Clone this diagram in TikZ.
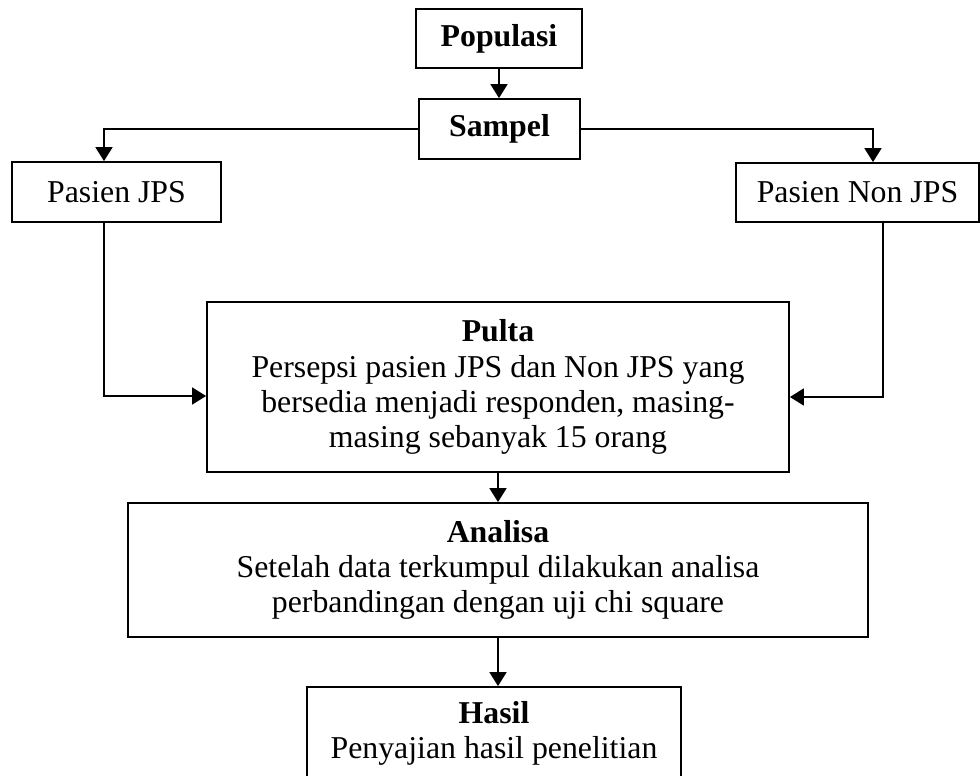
\documentclass[tikz,border=0pt]{standalone}
\usepackage{fontspec}
\setmainfont{Liberation Serif}
\usetikzlibrary{arrows.meta}
\begin{document}
\begin{tikzpicture}[x=0.5pt,y=-0.5pt,
  box/.style={draw=black,line width=0.9pt,inner sep=0pt,align=center,text=black,font=\fontsize{15.9}{17.6}\selectfont},
  conn/.style={draw=black,line width=0.9pt,-{Triangle[length=7pt,width=8.5pt]}}]
\fill[white] (0,0) rectangle (980,776);
\useasboundingbox (0,0) rectangle (980,776);
\node[box,minimum width=83pt,minimum height=29.5pt] (pop) at (499,38.5) {\textbf{Populasi}};
\node[box,minimum width=80.5pt,minimum height=30pt] (sam) at (499.5,129) {\textbf{Sampel}};
\node[box,minimum width=104.5pt,minimum height=30pt] (jps) at (116.5,192) {Pasien JPS};
\node[box,minimum width=121.5pt,minimum height=29.5pt] (non) at (857.5,192.5) {Pasien Non JPS};
\node[box,minimum width=291pt,minimum height=85pt] (pulta) at (498,387) {\textbf{Pulta}\\Persepsi pasien JPS dan Non JPS yang\\bersedia menjadi responden, masing-\\masing sebanyak 15 orang};
\node[box,minimum width=370pt,minimum height=67pt] (ana) at (498,570) {\textbf{Analisa}\\Setelah data terkumpul dilakukan analisa\\perbandingan dengan uji chi square};
\node[box,minimum width=187pt,minimum height=46pt] (has) at (494,733) {\textbf{Hasil}\\Penyajian hasil penelitian};
\draw[conn] (pop.south) -- (pop.south |- sam.north);
\draw[conn] (sam.west) -| ([xshift=-6.25pt]jps.north);
\draw[conn] (sam.east) -| ([xshift=7.75pt]non.north);
\draw[conn] ([xshift=-6.25pt]jps.south) |- ([yshift=-4.5pt]pulta.west);
\draw[conn] ([xshift=12.75pt]non.south) |- ([yshift=-5pt]pulta.east);
\draw[conn] (pulta.south) -- (pulta.south |- ana.north);
\draw[conn] (ana.south) -- (ana.south |- has.north);
\end{tikzpicture}
\end{document}
